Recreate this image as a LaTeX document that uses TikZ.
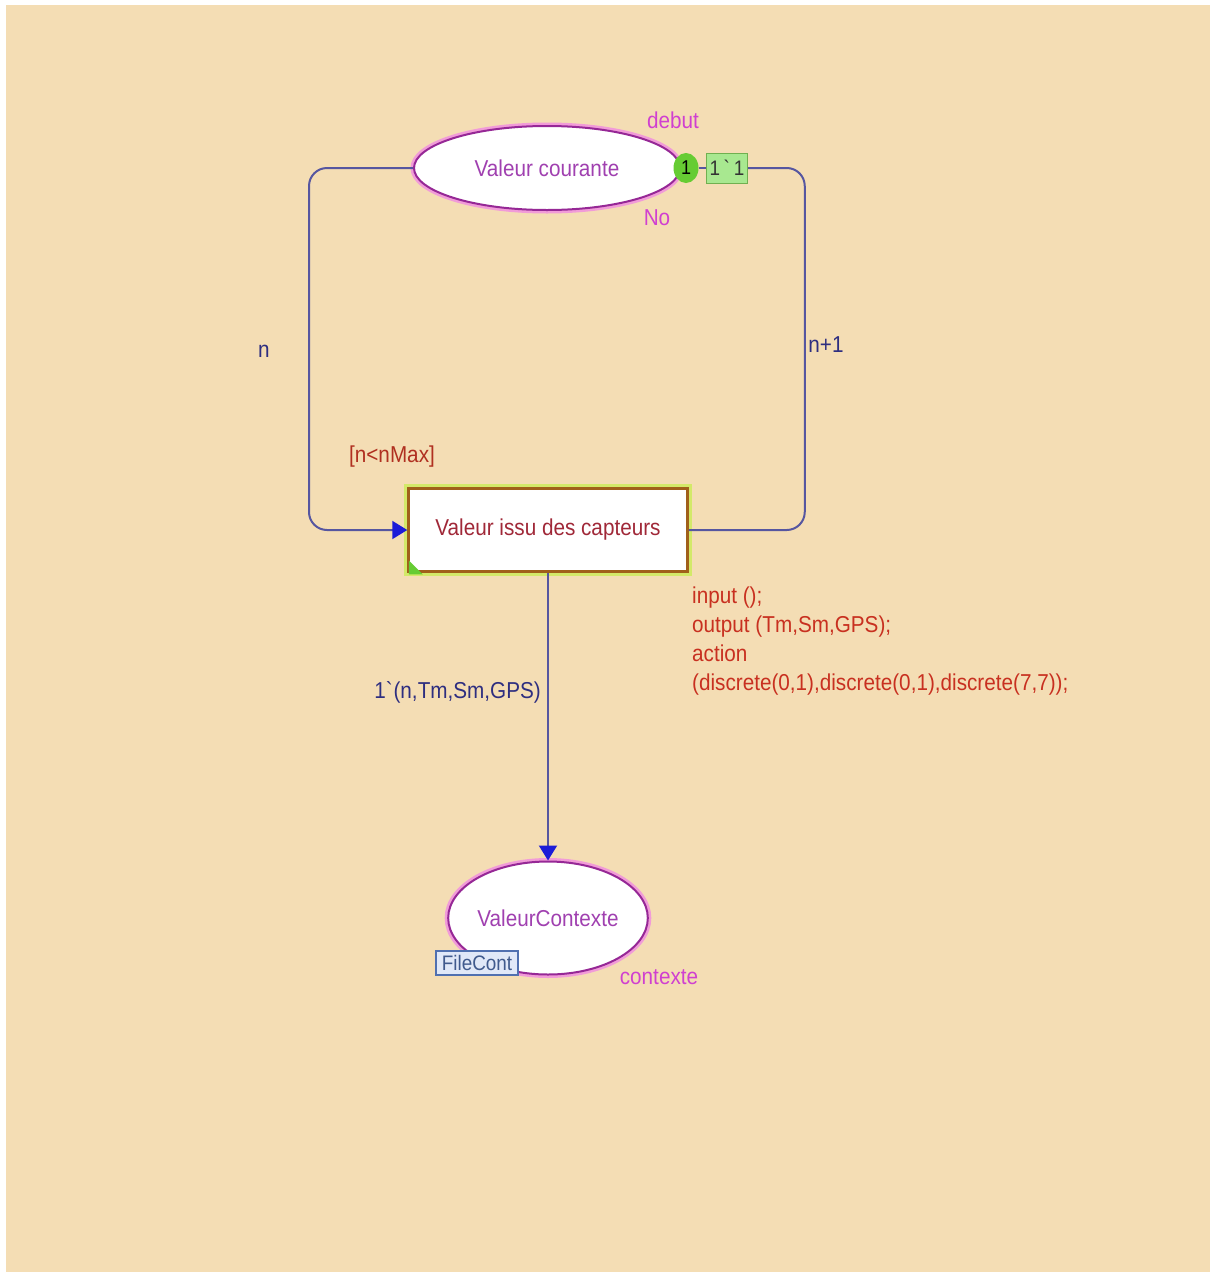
\documentclass[tikz,border=0pt]{standalone}
\usepackage{fontspec}
\setmainfont{Liberation Sans}[FakeStretch=0.9]
\usetikzlibrary{shapes.geometric,arrows.meta}

\definecolor{paper}{HTML}{F4DDB4}
\definecolor{arcline}{HTML}{5656A0}
\definecolor{arctip}{HTML}{1C1CD8}
\definecolor{arctext}{HTML}{2E2E80}
\definecolor{placetext}{HTML}{A040B0}
\definecolor{placeline}{HTML}{962896}
\definecolor{placeglow}{HTML}{F070F0}
\definecolor{placeaux}{HTML}{D040D0}
\definecolor{transtext}{HTML}{A02838}
\definecolor{transline}{HTML}{A0601A}
\definecolor{transglow}{HTML}{C8EE50}
\definecolor{guardtext}{HTML}{B03020}
\definecolor{codetext}{HTML}{C83020}
\definecolor{tokfill}{HTML}{66CC33}
\definecolor{markfill}{HTML}{A8E890}
\definecolor{markline}{HTML}{70B050}
\definecolor{fsline}{HTML}{5070B0}
\definecolor{fsfill}{HTML}{E0E8F8}

\tikzset{
  txt/.style={font=\fontsize{23}{29}\selectfont},
  place/.style={ellipse, draw=placeline, line width=2pt, fill=white, inner sep=0pt,
    preaction={draw=placeglow, line width=7pt, draw opacity=0.6},
    text=placetext, txt},
  trans/.style={rectangle, draw=transline, line width=2.5pt, fill=white, inner sep=0pt,
    minimum width=279pt, minimum height=83pt,
    preaction={draw=transglow, line width=9pt, draw opacity=0.75},
    text=transtext, txt},
  arc/.style={draw=arcline, line width=2pt, rounded corners=18pt},
  tip/.style={-{Triangle[length=15pt,width=18pt,fill=arctip,color=arctip]}},
  arclabel/.style={text=arctext, txt, inner sep=0pt},
  aux/.style={text=placeaux, txt, inner sep=0pt},
}

\begin{document}
\begin{tikzpicture}[x=1pt,y=-1pt]
  % page and sheet
  \useasboundingbox (0,0) rectangle (1210,1277);
  \fill[white] (0,0) rectangle (1210,1277);
  \fill[paper] (6,5) rectangle (1210,1272);

  % places
  \node[place, minimum width=266pt, minimum height=84pt] (vc) at (547,168) {Valeur courante};
  \node[place, minimum width=191pt, minimum height=113pt] (ctx) at (548,918) {ValeurContexte};

  % transition
  \node[trans] (tr) at (548,530) {Valeur issu des capteurs};
  \fill[tokfill] ([xshift=1.5pt,yshift=-1.5pt]tr.south west) -- ++(14,0) -- ++(-14,-14) -- cycle;

  % marking of the upper place
  \node[ellipse, fill=tokfill, minimum width=25pt, minimum height=30pt, inner sep=0pt, font=\fontsize{20}{24}\selectfont] (cnt) at (686,168) {1};
  \node[rectangle, draw=markline, line width=1pt, fill=markfill, minimum width=41pt, minimum height=30pt,
        inner sep=0pt, text=black!80, font=\fontsize{21}{24}\selectfont] (mark) at (727,168) {1\,\textasciigrave\,1};

  % arcs
  \draw[arc, tip] (vc.west) -- ++(-104,0) |- (tr.west);
  \draw[arc] (tr.east) -- ++(116,0) |- (mark.east);
  \draw[arc] (cnt.east) -- (mark.west);
  \draw[draw=arcline, line width=2pt, tip] (tr.south) -- (ctx.north);

  % arc inscriptions
  \node[arclabel] (ln) at (264,351) {n};
  \node[arclabel] (lnp) at (826,345) {n+1};
  \node[arclabel, anchor=east] (lout) at (541,692) {1\textasciigrave(n,Tm,Sm,GPS)};

  % place annotations
  \node[aux] (debut) at (673,120) {debut};
  \node[aux] (no) at (657,218) {No};
  \node[aux] (contexte) at (659,977) {contexte};
  \node[rectangle, draw=fsline, line width=2pt, fill=fsfill, inner sep=1pt, minimum width=82pt, minimum height=24pt,
        text=fsline!80!black, font=\fontsize{21}{24}\selectfont] (fs) at (477,963) {FileCont};

  % guard and code of the transition
  \node[text=guardtext, txt, inner sep=0pt] (guard) at (392,457) {[n<nMax]};
  \node[text=codetext, txt, inner sep=0pt, anchor=north west, align=left] (code) at (692,587)
    {input ();\\output (Tm,Sm,GPS);\\action\\(discrete(0,1),discrete(0,1),discrete(7,7));};
\end{tikzpicture}
\end{document}
